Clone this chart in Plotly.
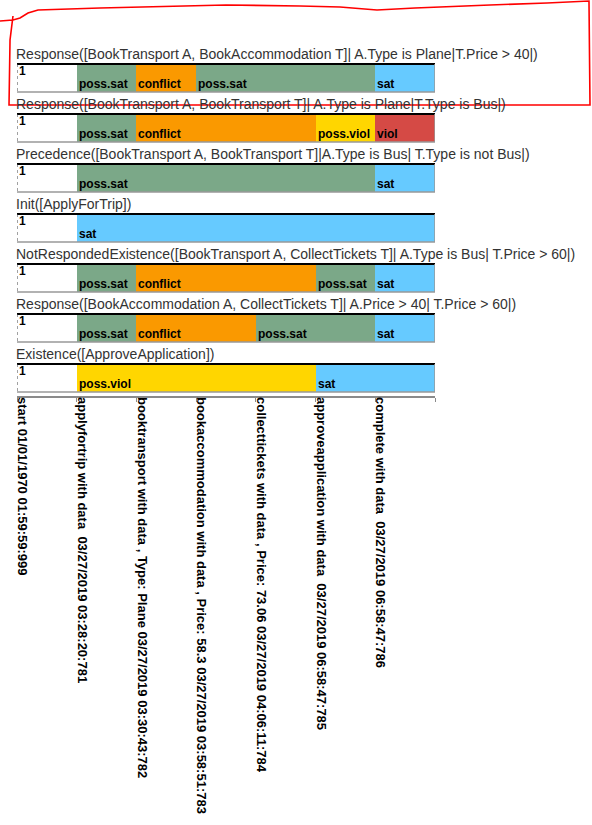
import plotly.graph_objects as go

# ---------------- data ----------------
constraints = [
    "Response([BookTransport A, BookAccommodation T]| A.Type is Plane|T.Price > 40|)",
    "Response([BookTransport A, BookTransport T]| A.Type is Plane|T.Type is Bus|)",
    "Precedence([BookTransport A, BookTransport T]|A.Type is Bus| T.Type is not Bus|)",
    "Init([ApplyForTrip])",
    "NotRespondedExistence([BookTransport A, CollectTickets T]| A.Type is Bus| T.Price > 60|)",
    "Response([BookAccommodation A, CollectTickets T]| A.Price > 40| T.Price > 60|)",
    "Existence([ApproveApplication])",
]

events = [
    "start 01/01/1970 01:59:59:999",
    "applyfortrip with data\u00a0\u00a003/27/2019 03:28:20:781",
    "booktransport with data , Type: Plane 03/27/2019 03:30:43:782",
    "bookaccommodation with data , Price: 58.3 03/27/2019 03:58:51:783",
    "collecttickets with data , Price: 73.06 03/27/2019 04:06:11:784",
    "approveapplication with data\u00a0\u00a003/27/2019 06:58:47:785",
    "complete with data\u00a0\u00a003/27/2019 06:58:47:786",
]

# state of each constraint after each event ("" = initial, no state)
states = [
    ["", "poss.sat", "conflict", "poss.sat", "poss.sat", "poss.sat", "sat"],
    ["", "poss.sat", "conflict", "conflict", "conflict", "poss.viol", "viol"],
    ["", "poss.sat", "poss.sat", "poss.sat", "poss.sat", "poss.sat", "sat"],
    ["", "sat", "sat", "sat", "sat", "sat", "sat"],
    ["", "poss.sat", "conflict", "conflict", "conflict", "poss.sat", "sat"],
    ["", "poss.sat", "conflict", "conflict", "poss.sat", "poss.sat", "sat"],
    ["", "poss.viol", "poss.viol", "poss.viol", "poss.viol", "sat", "sat"],
]
trace_id = "1"

# ---------------- styles ----------------
colors = {
    "": "#FFFFFF",
    "poss.sat": "#7BA888",
    "conflict": "#FA9900",
    "poss.viol": "#FFD600",
    "sat": "#66CAFF",
    "viol": "#D54A45",
}
FONT = "Liberation Sans, Arial, sans-serif"

W, H = 592, 825
L, R = 17, 435          # plot x pixel range
AX_Y = 396              # axis line pixel y
ROW_PITCH = 50
BAR_TOP0 = 64
BAR_H = 28

def py(p):  # pixel y -> y data unit (1 unit = ROW_PITCH px)
    return p / ROW_PITCH

n_slots = len(events)

# merge consecutive equal states into segments
segments = []  # (row, state, start, length)
for r, row in enumerate(states):
    start = 0
    for k in range(1, len(row) + 1):
        if k == len(row) or row[k] != row[start]:
            segments.append((r, row[start], start, k - start))
            start = k

def bar_center(r):
    return py(BAR_TOP0 + r * ROW_PITCH + BAR_H / 2)

fig = go.Figure()
for st, col in colors.items():
    segs = [s for s in segments if s[1] == st]
    if not segs:
        continue
    fig.add_trace(go.Bar(
        orientation="h",
        y=[bar_center(s[0]) for s in segs],
        x=[s[3] for s in segs],
        base=[s[2] for s in segs],
        width=py(BAR_H),
        marker=dict(color=col, line=dict(width=0)),
        showlegend=False,
        hoverinfo="skip",
    ))

annotations = []
shapes = []
for r, title in enumerate(constraints):
    top = py(BAR_TOP0 + r * ROW_PITCH)
    bot = py(BAR_TOP0 + r * ROW_PITCH + BAR_H)
    annotations.append(dict(
        x=0, y=py(BAR_TOP0 + r * ROW_PITCH - 10), xref="x", yref="y", xshift=-3,
        text=title, showarrow=False, xanchor="left", yanchor="middle",
        font=dict(family=FONT, size=14, color="#333333"),
    ))
    annotations.append(dict(
        x=0.0, y=py(BAR_TOP0 + r * ROW_PITCH + 7), xref="x", yref="y",
        text=trace_id, showarrow=False, xanchor="left", yanchor="middle",
        font=dict(family=FONT, size=12, color="black", weight="bold"),
    ))
    # borders
    shapes.append(dict(type="line", xref="x", yref="y", x0=0, x1=n_slots, y0=top, y1=top,
                       line=dict(color="black", width=2)))
    shapes.append(dict(type="line", xref="x", yref="y", x0=0, x1=0, y0=top, y1=bot,
                       line=dict(color="#444444", width=1, dash="dot")))
    shapes.append(dict(type="line", xref="x", yref="y", x0=n_slots, x1=n_slots, y0=top, y1=bot,
                       line=dict(color="#999999", width=1.5)))
    shapes.append(dict(type="line", xref="x", yref="y", x0=0, x1=n_slots, y0=bot, y1=bot,
                       line=dict(color="#999999", width=1.5)))

for (r, st, start, length) in segments:
    if st == "":
        continue
    annotations.append(dict(
        x=start, y=py(BAR_TOP0 + r * ROW_PITCH + 20), xref="x", yref="y",
        text=st, showarrow=False, xanchor="left", yanchor="middle",
        font=dict(family=FONT, size=12, color="black", weight="bold"),
    ))

# hand-drawn red outline (pixel points -> paper coords)
pts = [(0, 21), (13, 20), (20, 18), (28, 13), (38, 10), (100, 8), (226, 5), (300, 6),
       (340, 7), (377, 10), (415, 8), (490, 5), (547, 3), (589, 1),
       (590, 105), (9, 105), (10, 40), (13, 16)]
def to_paper(px, pyy):
    return ((px - L) / (R - L), 1 - pyy / AX_Y)
path = "M " + " L ".join("%.4f,%.4f" % to_paper(*p) for p in pts)
shapes.append(dict(type="path", xref="paper", yref="paper", path=path,
                   line=dict(color="#FF0000", width=1.6)))

fig.add_trace(go.Scatter(x=[0], y=[0], xaxis="x2", mode="markers",
                         marker=dict(opacity=0), showlegend=False, hoverinfo="skip"))

fig.update_layout(
    width=W, height=H,
    margin=dict(l=L, r=W - R, t=0, b=H - AX_Y, pad=0),
    paper_bgcolor="white", plot_bgcolor="white",
    barmode="overlay", bargap=0,
    showlegend=False,
    xaxis=dict(range=[0, n_slots], showgrid=False, zeroline=False,
               showline=True, linecolor="#8a8a8a", linewidth=1.5,
               ticks="outside", ticklen=4, tickcolor="#8a8a8a",
               tickvals=list(range(n_slots + 1)), showticklabels=False, fixedrange=True),
    xaxis2=dict(range=[0, n_slots], overlaying="x", side="bottom", anchor="y",
                showgrid=False, zeroline=False, showline=False, ticks="",
                tickvals=[i + 0.09 for i in range(n_slots)], ticktext=events,
                tickangle=90,
                tickfont=dict(family=FONT, size=13, color="black", weight="bold")),
    yaxis=dict(range=[py(AX_Y), 0], visible=False, fixedrange=True),
    annotations=annotations,
    shapes=shapes,
)

fig.write_html("out.html")
